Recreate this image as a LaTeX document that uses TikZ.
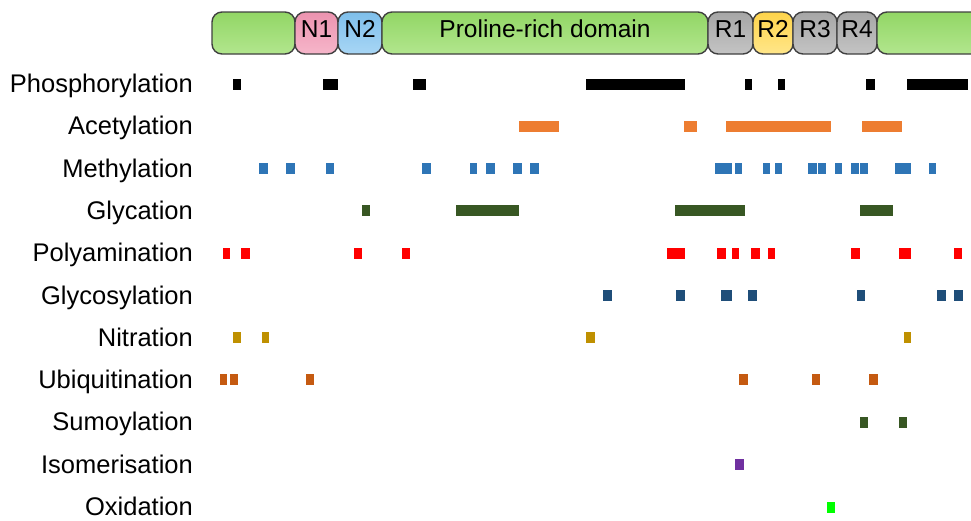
\documentclass[tikz,border=0pt]{standalone}
\usepackage{fontspec}
\setmainfont{Liberation Sans}
\usepackage{tikz}
\definecolor{acetorange}{HTML}{ED7D31}
\definecolor{methblue}{HTML}{2E75B6}
\definecolor{glycgreen}{HTML}{385723}
\definecolor{polyred}{HTML}{FF0000}
\definecolor{glcnblue}{HTML}{1F4E79}
\definecolor{nitrgold}{HTML}{BF9000}
\definecolor{ubiqorange}{HTML}{C55A11}
\definecolor{isopurple}{HTML}{7030A0}
\definecolor{oxgreen}{HTML}{00FF00}
\definecolor{protop}{HTML}{92D665}
\definecolor{probot}{HTML}{B2E68E}
\definecolor{pinktop}{HTML}{EC93AF}
\definecolor{pinkbot}{HTML}{F6B6CA}
\definecolor{bluetop}{HTML}{7EBFEB}
\definecolor{bluebot}{HTML}{A8D6F5}
\definecolor{greytop}{HTML}{A6A6A6}
\definecolor{greybot}{HTML}{C4C4C4}
\definecolor{yeltop}{HTML}{FFD44A}
\definecolor{yelbot}{HTML}{FFE68A}

\begin{document}
\begin{tikzpicture}
  [x=1pt,y=-1pt,
   domainbox/.style={draw=black!75,line width=1.4pt,rounded corners=10pt,inner sep=0pt,
     minimum height=42pt,text height=17.5pt,text depth=8pt,font=\fontsize{24.5}{29}\selectfont},
   greenbox/.style={domainbox,top color=protop,bottom color=probot},
   greybox/.style={domainbox,top color=greytop,bottom color=greybot},
   ptm/.style={anchor=base east,inner sep=0pt,font=\fontsize{25.5}{30}\selectfont}]

  \clip (0,0) rectangle (971,520);

  % tau domains
  \node[greenbox,minimum width=83pt] (ct1) at (253.5,33) {};
  \node[domainbox,minimum width=43pt,top color=pinktop,bottom color=pinkbot] (n1) at (316.5,33) {N1};
  \node[domainbox,minimum width=44pt,top color=bluetop,bottom color=bluebot] (n2) at (360,33) {N2};
  \node[greenbox,minimum width=326pt] (pro) at (545,33) {Proline-rich domain};
  \node[greybox,minimum width=45pt] (r1) at (730.5,33) {R1};
  \node[domainbox,minimum width=40pt,top color=yeltop,bottom color=yelbot] (r2) at (773,33) {R2};
  \node[greybox,minimum width=44pt] (r3) at (815,33) {R3};
  \node[greybox,minimum width=40pt] (r4) at (857,33) {R4};
  \node[greenbox,minimum width=123pt] (ct2) at (938.5,33) {};

  % modification names
  \foreach \name [count=\i from 0] in {Phosphorylation,Acetylation,Methylation,Glycation,Polyamination,
      Glycosylation,Nitration,Ubiquitination,Sumoylation,Isomerisation,Oxidation}
    \node[ptm] (ptm\i) at (193,92.5+42.3*\i) {\name};

  % modified sites
  \foreach \a/\b in {232.5/240.5,322.5/337.5,412.5/426,586/684.5,744.5/752,777.5/785,866/874.5,906.5/967.5}
    \fill[black] (\a,78.5) rectangle (\b,89.5);
  \foreach \a/\b in {518.5/559,683.5/696.5,725.5/831,861.5/901.5}
    \fill[acetorange] (\a,120.5) rectangle (\b,131.5);
  \foreach \a/\b in {258.5/267.5,285.5/294.5,325.5/333.5,421.5/430.5,469.5/476.5,485.5/494.5,512.5/521.5,
      529.5/538.5,714.5/731.5,734.5/741.5,762.5/770,774.5/782,807.5/816.5,818/825.5,834.5/841.5,
      851/858.5,860/867.5,894.5/910.5,928.5/936}
    \fill[methblue] (\a,162.5) rectangle (\b,173.5);
  \foreach \a/\b in {361.5/369.5,455.5/518.5,674.5/744.5,860/892.5}
    \fill[glycgreen] (\a,205) rectangle (\b,216);
  \foreach \a/\b in {222.5/229.5,240.5/249.5,354/361.5,402/409.5,666.5/684.5,716.5/725.5,731.5/738.5,
      750.5/759.5,767.5/774.5,851/860,898.5/910.5,954/961.5}
    \fill[polyred] (\a,247.5) rectangle (\b,258.5);
  \foreach \a/\b in {602.5/611.5,675.5/684.5,720.5/731.5,747.5/756.5,857/864.5,936.5/945.5,954/963}
    \fill[glcnblue] (\a,289.5) rectangle (\b,300.5);
  \foreach \a/\b in {232.5/240.5,261.5/268.5,586/595,903.5/910.5}
    \fill[nitrgold] (\a,332) rectangle (\b,343);
  \foreach \a/\b in {219.5/226.5,229.5/237.5,306/313.5,738.5/747.5,812/819.5,869/877.5}
    \fill[ubiqorange] (\a,374) rectangle (\b,385);
  \foreach \a/\b in {860/867.5,898.5/906.5}
    \fill[glycgreen] (\a,416.5) rectangle (\b,427.5);
  \fill[isopurple] (734.5,458.5) rectangle (743.5,469.5);
  \fill[oxgreen] (827,501.5) rectangle (834.5,512.5);
\end{tikzpicture}
\end{document}
